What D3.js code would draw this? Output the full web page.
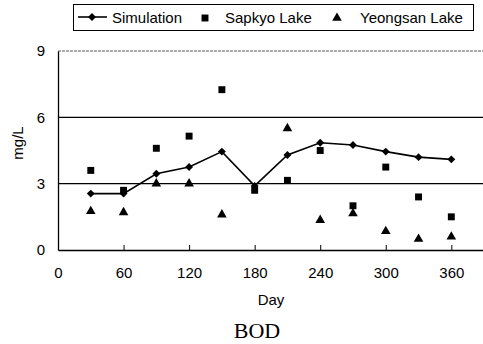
<!DOCTYPE html>
<html>
<head>
<meta charset="utf-8">
<script src="https://cdn.jsdelivr.net/npm/d3@7"></script>
<style>
body { margin: 0; background: #fff; }
text { font-family: "Liberation Sans", Arial, sans-serif; fill: #000; }
</style>
</head>
<body>
<div class="bodChart"></div>
<script>
var days = [30, 60, 90, 120, 150, 180, 210, 240, 270, 300, 330, 360];
var simulation = [2.55, 2.55, 3.45, 3.75, 4.45, 2.9, 4.3, 4.85, 4.75, 4.45, 4.2, 4.1];
var sapkyo = [3.6, 2.7, 4.6, 5.15, 7.25, 2.7, 3.15, 4.5, 2.0, 3.75, 2.4, 1.5];
var yeongsan = [1.75, 1.7, 3.0, 3.0, 1.6, null, 5.5, 1.35, 1.65, 0.85, 0.5, 0.6];

var xTicks = [0, 60, 120, 180, 240, 300, 360];
var yTicks = [0, 3, 6, 9];

var width = 483;
var height = 344;

var x = d3.scaleLinear()
    .domain([0, 389])
    .range([58, 483]);

var y = d3.scaleLinear()
    .domain([0, 9])
    .range([250, 51]);

var canvas = d3.select(".bodChart")
    .append("svg")
    .attr("width", width)
    .attr("height", height);

// gridlines at 3 and 6, dotted top frame at 9
canvas.selectAll(".grid")
    .data([3, 6])
    .enter().append("line")
    .attr("class", "grid")
    .attr("x1", x(0))
    .attr("x2", width)
    .attr("y1", function(d) { return y(d); })
    .attr("y2", function(d) { return y(d); })
    .attr("stroke", "#000")
    .attr("stroke-width", 1.2);

canvas.append("line")
    .attr("x1", x(0)).attr("x2", width)
    .attr("y1", y(9)).attr("y2", y(9))
    .attr("stroke", "#555")
    .attr("stroke-width", 1)
    .attr("stroke-dasharray", "3,1");

var xAxis = d3.axisBottom(x)
    .tickValues(xTicks)
    .tickSizeInner(-5)
    .tickSizeOuter(0)
    .tickPadding(17);

var yAxis = d3.axisLeft(y)
    .tickValues(yTicks)
    .tickSize(0)
    .tickPadding(13);

var gx = canvas.append("g")
    .attr("transform", "translate(0," + y(0) + ")")
    .call(xAxis);

var gy = canvas.append("g")
    .attr("transform", "translate(" + x(0) + ",0)")
    .call(yAxis);

gx.select(".domain").attr("stroke-width", 1.3);
gy.select(".domain").attr("stroke-width", 1.3);
gx.selectAll(".tick text").style("font-size", "15px").attr("font-family", null);
gy.selectAll(".tick text").style("font-size", "15px").attr("font-family", null);
gx.selectAll(".tick line").filter(function(d) { return d === 0; }).remove();

// simulation line
var line = d3.line()
    .x(function(d, i) { return x(days[i]); })
    .y(function(d) { return y(d); });

canvas.append("path")
    .datum(simulation)
    .attr("d", line)
    .attr("fill", "none")
    .attr("stroke", "#000")
    .attr("stroke-width", 1.6);

var diamond = d3.symbol().type(d3.symbolDiamond2).size(40);
var square = d3.symbol().type(d3.symbolSquare).size(48);
var triangle = d3.symbol().type(d3.symbolTriangle).size(40);

canvas.selectAll(".sap")
    .data(sapkyo)
    .enter().append("path")
    .attr("class", "sap")
    .attr("d", square)
    .attr("transform", function(d, i) { return "translate(" + x(days[i]) + "," + y(d) + ")"; })
    .attr("fill", "#000");

canvas.selectAll(".yeo")
    .data(yeongsan.map(function(v, i) { return { day: days[i], v: v }; })
        .filter(function(d) { return d.v !== null; }))
    .enter().append("path")
    .attr("class", "yeo")
    .attr("d", triangle)
    .attr("transform", function(d) { return "translate(" + x(d.day) + "," + y(d.v) + ")"; })
    .attr("fill", "#000");

canvas.selectAll(".sim")
    .data(simulation)
    .enter().append("path")
    .attr("class", "sim")
    .attr("d", diamond)
    .attr("transform", function(d, i) { return "translate(" + x(days[i]) + "," + y(d) + ")"; })
    .attr("fill", "#000");

// axis titles
canvas.append("text")
    .attr("x", 271)
    .attr("y", 305)
    .style("text-anchor", "middle")
    .style("font-size", "15px")
    .text("Day");

canvas.append("text")
    .attr("transform", "translate(23,143) rotate(-90)")
    .style("text-anchor", "middle")
    .style("font-size", "15px")
    .text("mg/L");

canvas.append("text")
    .attr("x", 257)
    .attr("y", 338)
    .style("text-anchor", "middle")
    .style("font-family", "'Liberation Serif', 'DejaVu Serif', serif")
    .style("font-size", "22px")
    .text("BOD");

// legend
var legend = canvas.append("g");
legend.append("rect")
    .attr("x", 73.5).attr("y", 4.5)
    .attr("width", 400).attr("height", 26)
    .attr("fill", "none")
    .attr("stroke", "#000")
    .attr("stroke-width", 1);

legend.append("line")
    .attr("x1", 78).attr("x2", 107)
    .attr("y1", 17).attr("y2", 17)
    .attr("stroke", "#000").attr("stroke-width", 1.6);
legend.append("path").attr("d", diamond)
    .attr("transform", "translate(92,17)");
legend.append("text").attr("x", 112).attr("y", 23)
    .style("font-size", "15px").text("Simulation");

legend.append("path").attr("d", square)
    .attr("transform", "translate(205,18)");
legend.append("text").attr("x", 225).attr("y", 23)
    .style("font-size", "15px").text("Sapkyo Lake");

legend.append("path").attr("d", triangle)
    .attr("transform", "translate(337,18)");
legend.append("text").attr("x", 360).attr("y", 23)
    .style("font-size", "15px").text("Yeongsan Lake");
</script>
</body>
</html>
